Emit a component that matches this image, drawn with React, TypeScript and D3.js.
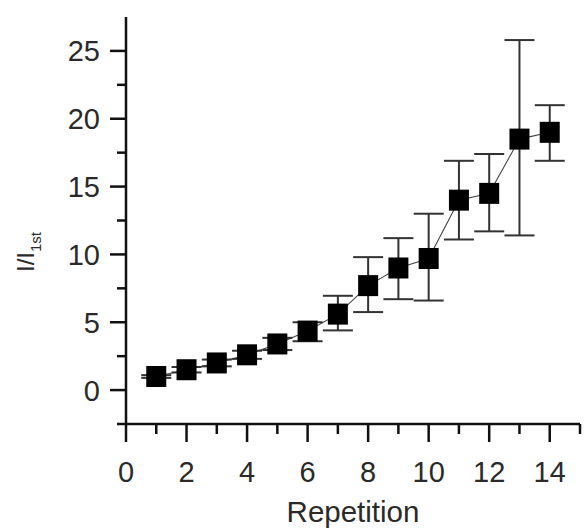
import React from 'react'
import { scaleLinear, line, range } from 'd3'

// values
const repetition = [1, 2, 3, 4, 5, 6, 7, 8, 9, 10, 11, 12, 13, 14]
const ratio = [1.0, 1.5, 2.0, 2.6, 3.4, 4.35, 5.6, 7.7, 9.0, 9.7, 14.0, 14.5, 18.5, 19.0]
const errUpper = [1.1, 1.7, 2.25, 2.9, 3.85, 5.0, 6.95, 9.8, 11.2, 13.0, 16.9, 17.4, 25.8, 21.0]
const errLower = [0.9, 1.3, 1.75, 2.3, 2.95, 3.6, 4.4, 5.75, 6.7, 6.6, 11.1, 11.7, 11.4, 16.9]
const xTicks = [0, 2, 4, 6, 8, 10, 12, 14]
const yTicks = [0, 5, 10, 15, 20, 25]

export default function App() {
  const width = 586
  const height = 529
  const x = scaleLinear().domain([0, 15]).range([126, 580])
  const y = scaleLinear().domain([-2.5, 27.5]).range([424, 17])

  const minorX = range(1, 15, 2)
  const minorY = range(-2.5, 27.5, 5)
  const pts = repetition.map((r, i) => [x(r), y(ratio[i])] as [number, number])
  const path = line()(pts) || ''

  const font = '"Liberation Sans", Arial, sans-serif'
  const ink = '#111'
  const txt = '#2a2a2a'

  return (
    <svg
      width={width}
      height={height}
      style={{ position: 'absolute', left: 0, top: 0, background: '#fff' }}
    >
      {/* connecting line */}
      <path d={path} fill="none" stroke="#444" strokeWidth={1.1} />

      {/* error bars */}
      {repetition.map((r, i) => {
        const cx = x(r)
        return (
          <g key={'e' + r} stroke="#333" strokeWidth={2}>
            <line x1={cx} x2={cx} y1={y(errUpper[i])} y2={y(errLower[i])} />
            <line x1={cx - 15} x2={cx + 15} y1={y(errUpper[i])} y2={y(errUpper[i])} />
            <line x1={cx - 15} x2={cx + 15} y1={y(errLower[i])} y2={y(errLower[i])} />
          </g>
        )
      })}

      {/* markers */}
      {pts.map(([px, py], i) => (
        <rect key={'m' + i} x={px - 10} y={py - 10.5} width={20} height={21} fill="#000" />
      ))}

      {/* y axis */}
      <line x1={x(0)} x2={x(0)} y1={y(-2.5)} y2={y(27.5)} stroke={ink} strokeWidth={2.5} />
      {yTicks.map(t => (
        <g key={'y' + t}>
          <line x1={x(0) - 16} x2={x(0)} y1={y(t)} y2={y(t)} stroke={ink} strokeWidth={2.5} />
          <text
            x={100}
            y={y(t)}
            dy="0.36em"
            textAnchor="end"
            fontFamily={font}
            fontSize={29}
            fill={txt}
          >
            {t}
          </text>
        </g>
      ))}
      {minorY.map(t => (
        <line key={'ym' + t} x1={x(0) - 9} x2={x(0)} y1={y(t)} y2={y(t)} stroke={ink} strokeWidth={2.5} />
      ))}

      {/* x axis */}
      <line x1={x(0)} x2={x(15)} y1={y(-2.5)} y2={y(-2.5)} stroke={ink} strokeWidth={2.5} />
      {xTicks.map(t => (
        <g key={'x' + t}>
          <line x1={x(t)} x2={x(t)} y1={y(-2.5)} y2={y(-2.5) + 18} stroke={ink} strokeWidth={2.5} />
          <text
            x={x(t)}
            y={482}
            textAnchor="middle"
            fontFamily={font}
            fontSize={29}
            fill={txt}
          >
            {t}
          </text>
        </g>
      ))}
      {minorX.map(t => (
        <line key={'xm' + t} x1={x(t)} x2={x(t)} y1={y(-2.5)} y2={y(-2.5) + 10} stroke={ink} strokeWidth={2.5} />
      ))}
      <line x1={x(15)} x2={x(15)} y1={y(-2.5)} y2={y(-2.5) + 10} stroke={ink} strokeWidth={2.5} />

      {/* axis titles */}
      <text x={x(7.5)} y={522} textAnchor="middle" fontFamily={font} fontSize={29.5} fill={txt}>
        Repetition
      </text>
      <text
        transform="translate(34, 272) rotate(-90)"
        fontFamily={font}
        fontSize={24}
        fill={txt}
      >
        I/I
        <tspan fontSize={15} dy={7}>1st</tspan>
      </text>
    </svg>
  )
}
